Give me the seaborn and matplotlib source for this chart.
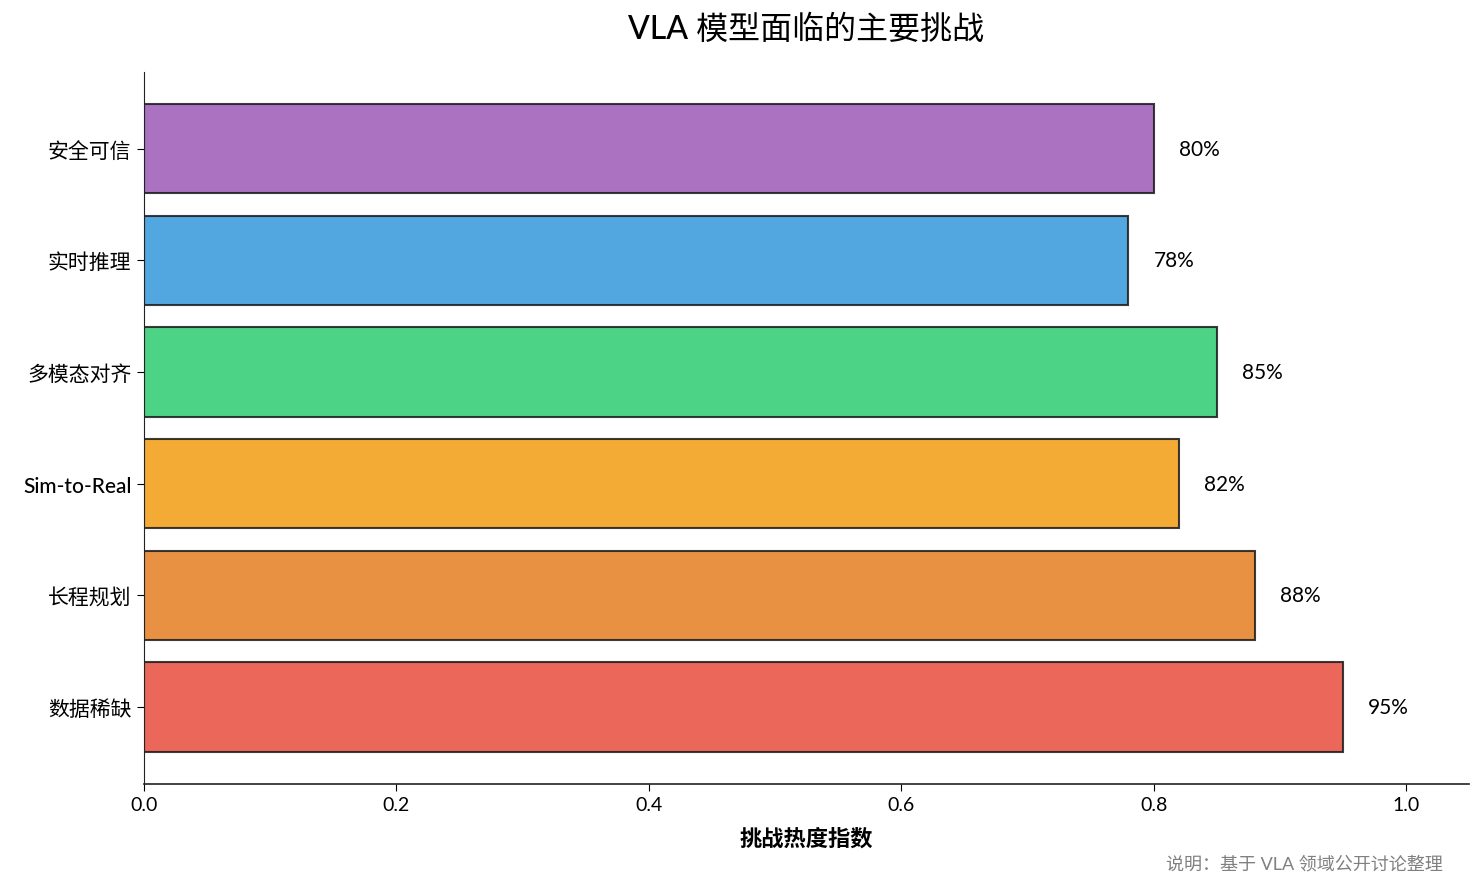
import matplotlib
matplotlib.use("Agg")
import matplotlib.pyplot as plt
import seaborn as sns
import pandas as pd

categories = ["数据稀缺", "长程规划", "Sim-to-Real", "多模态对齐", "实时推理", "安全可信"]
values = [0.95, 0.88, 0.82, 0.85, 0.78, 0.80]
colors = ["#e74c3c", "#e67e22", "#f39c12", "#2ecc71", "#3498db", "#9b59b6"]

sns.set_style("white", {"text.color": "black", "axes.labelcolor": "black",
                        "xtick.color": "black", "ytick.color": "black"})
plt.rcParams["font.family"] = ["Lato", "Noto Sans CJK SC", "DejaVu Sans"]

df = pd.DataFrame({"category": categories, "value": values})
order = categories[::-1]
palette = dict(zip(categories, colors))

fig, ax = plt.subplots(figsize=(14.84, 8.87), dpi=100)
sns.barplot(data=df, y="category", x="value", hue="category", order=order,
            palette=palette, orient="h", width=0.8, alpha=0.85, saturation=1,
            edgecolor="#1a1a1a", linewidth=1.5, legend=False, ax=ax)

for i, cat in enumerate(order):
    v = df.loc[df["category"] == cat, "value"].iloc[0]
    ax.text(v + 0.02, i, f"{v*100:.0f}%", va="center", ha="left", fontsize=15)

ax.set_xlim(0, 1.05)
ax.set_ylim(len(order) - 1 + 0.69, -0.69)
ax.set_ylabel("")
ax.set_xlabel("挑战热度指数", fontsize=16, fontweight="bold", labelpad=10)
ax.set_title("VLA 模型面临的主要挑战", fontsize=23, fontweight="medium", pad=24)
ax.tick_params(axis="x", labelsize=14, length=5, bottom=True)
ax.tick_params(axis="y", labelsize=15, length=5, left=True, pad=4)
for lbl in ax.get_yticklabels():
    lbl.set_fontweight("medium")
sns.despine(ax=ax)
ax.spines["left"].set_color("#222222")
ax.spines["bottom"].set_color("#222222")
ax.spines["bottom"].set_linewidth(1.2)

fig.text(0.972, 0.016, "说明：基于 VLA 领域公开讨论整理", ha="right", va="bottom",
         fontsize=13, color="#808080")

plt.subplots_adjust(left=0.097, right=0.99, top=0.918, bottom=0.115)
plt.savefig("out.png", dpi=100)
